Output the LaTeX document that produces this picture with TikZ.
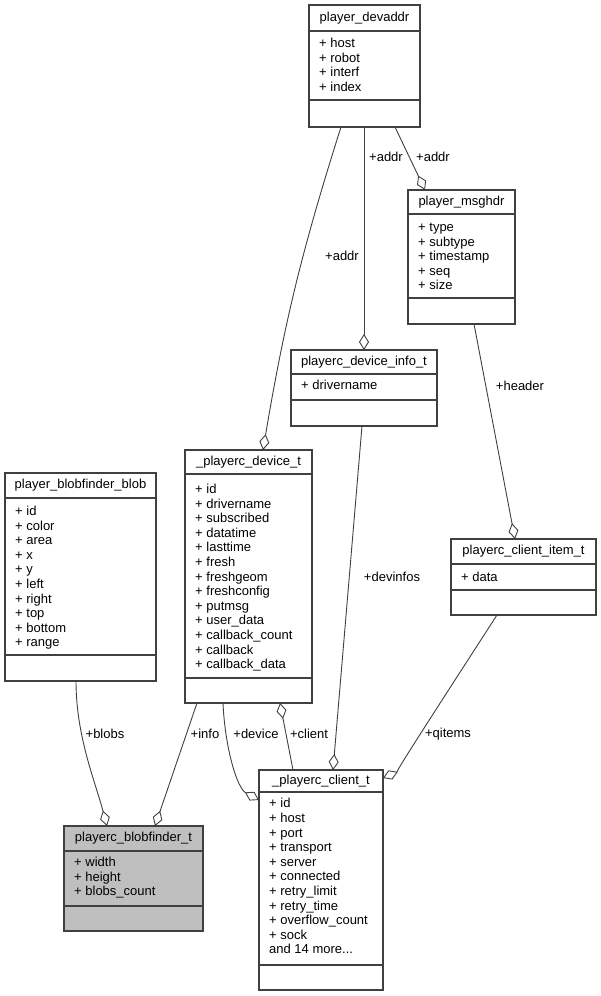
\documentclass[tikz,border=0pt]{standalone}
\usepackage{fontspec}
\setmainfont{Liberation Sans}
\usetikzlibrary{arrows.meta}
\definecolor{dxline}{HTML}{404040}
\definecolor{dxfill}{HTML}{BFBFBF}

\begin{document}
\begin{tikzpicture}[
  x=1pt, y=-1pt,
  cls/.style={draw=dxline, line width=1.3pt, fill=white, anchor=north west, inner sep=0pt, outer sep=0pt},
  hilite/.style={cls, fill=dxfill},
  sep/.style={dxline, line width=1.3pt},
  ttl/.style={font=\fontsize{13}{14.6}\selectfont, inner sep=0pt},
  attr/.style={font=\fontsize{13}{14.6}\selectfont, inner sep=0pt, align=left, anchor=north west},
  lbl/.style={font=\fontsize{13}{14.6}\selectfont, inner sep=0pt},
  agg/.style={dxline, line width=0.9pt, -{Diamond[open, length=16pt, width=10pt, line width=0.9pt]}}
]
\useasboundingbox (0,0) rectangle (601,996);

% classes
\node[cls, minimum width=111pt, minimum height=122pt] (devaddr) at (309,5) {};
\draw[sep] ([yshift=-26pt]devaddr.north west) -- ([yshift=-26pt]devaddr.north east);
\draw[sep] ([yshift=27pt]devaddr.south west) -- ([yshift=27pt]devaddr.south east);
\node[ttl] (devaddr-t) at ([yshift=-13pt]devaddr.north) {player\_devaddr};
\node[attr] (devaddr-a) at ([xshift=10pt,yshift=-32pt]devaddr.north west) {\strut+ host\\+ robot\\+ interf\\+ index};

\node[cls, minimum width=107pt, minimum height=134pt] (msghdr) at (408,190) {};
\draw[sep] ([yshift=-24pt]msghdr.north west) -- ([yshift=-24pt]msghdr.north east);
\draw[sep] ([yshift=26pt]msghdr.south west) -- ([yshift=26pt]msghdr.south east);
\node[ttl] (msghdr-t) at ([yshift=-12pt]msghdr.north) {player\_msghdr};
\node[attr] (msghdr-a) at ([xshift=10pt,yshift=-31pt]msghdr.north west) {\strut+ type\\+ subtype\\+ timestamp\\+ seq\\+ size};

\node[cls, minimum width=146pt, minimum height=76pt] (info) at (291,350) {};
\draw[sep] ([yshift=-24pt]info.north west) -- ([yshift=-24pt]info.north east);
\draw[sep] ([yshift=26pt]info.south west) -- ([yshift=26pt]info.south east);
\node[ttl] (info-t) at ([yshift=-12pt]info.north) {playerc\_device\_info\_t};
\node[attr] (info-a) at ([xshift=10pt,yshift=-29.5pt]info.north west) {\strut+ drivername};

\node[cls, minimum width=127pt, minimum height=253pt] (device) at (185,450) {};
\draw[sep] ([yshift=-24pt]device.north west) -- ([yshift=-24pt]device.north east);
\draw[sep] ([yshift=25pt]device.south west) -- ([yshift=25pt]device.south east);
\node[ttl] (device-t) at ([yshift=-12pt]device.north) {\_playerc\_device\_t};
\node[attr] (device-a) at ([xshift=10pt,yshift=-33pt]device.north west) {\strut+ id\\+ drivername\\+ subscribed\\+ datatime\\+ lasttime\\+ fresh\\+ freshgeom\\+ freshconfig\\+ putmsg\\+ user\_data\\+ callback\_count\\+ callback\\+ callback\_data};

\node[cls, minimum width=151pt, minimum height=208pt] (blob) at (5,473) {};
\draw[sep] ([yshift=-25pt]blob.north west) -- ([yshift=-25pt]blob.north east);
\draw[sep] ([yshift=26pt]blob.south west) -- ([yshift=26pt]blob.south east);
\node[ttl] (blob-t) at ([yshift=-12.5pt]blob.north) {player\_blobfinder\_blob};
\node[attr] (blob-a) at ([xshift=10pt,yshift=-32pt]blob.north west) {\strut+ id\\+ color\\+ area\\+ x\\+ y\\+ left\\+ right\\+ top\\+ bottom\\+ range};

\node[cls, minimum width=145pt, minimum height=76pt] (item) at (451,539) {};
\draw[sep] ([yshift=-25pt]item.north west) -- ([yshift=-25pt]item.north east);
\draw[sep] ([yshift=25pt]item.south west) -- ([yshift=25pt]item.south east);
\node[ttl] (item-t) at ([yshift=-12.5pt]item.north) {playerc\_client\_item\_t};
\node[attr] (item-a) at ([xshift=10pt,yshift=-32pt]item.north west) {\strut+ data};

\node[hilite, minimum width=139pt, minimum height=105pt] (bf) at (64,826) {};
\draw[sep] ([yshift=-25pt]bf.north west) -- ([yshift=-25pt]bf.north east);
\draw[sep] ([yshift=25pt]bf.south west) -- ([yshift=25pt]bf.south east);
\node[ttl] (bf-t) at ([yshift=-12.5pt]bf.north) {playerc\_blobfinder\_t};
\node[attr] (bf-a) at ([xshift=10pt,yshift=-30pt]bf.north west) {\strut+ width\\+ height\\+ blobs\_count};

\node[cls, minimum width=124pt, minimum height=220pt] (client) at (259,770) {};
\draw[sep] ([yshift=-22pt]client.north west) -- ([yshift=-22pt]client.north east);
\draw[sep] ([yshift=25pt]client.south west) -- ([yshift=25pt]client.south east);
\node[ttl] (client-t) at ([yshift=-11pt]client.north) {\_playerc\_client\_t};
\node[attr] (client-a) at ([xshift=10pt,yshift=-27.5pt]client.north west) {\strut+ id\\+ host\\+ port\\+ transport\\+ server\\+ connected\\+ retry\_limit\\+ retry\_time\\+ overflow\_count\\+ sock\\and 14 more...};

% relations
\draw[agg] ([xshift=32pt]devaddr.south west) to[bend right=4] ([xshift=78pt]device.north west);
\draw[agg] (info.north |- devaddr.south) -- (info.north);
\draw[agg] ([xshift=86pt]devaddr.south west) -- ([xshift=17pt]msghdr.north west);
\draw[agg] ([xshift=66pt]msghdr.south west) -- ([xshift=64pt]item.north west);
\draw[agg] ([xshift=71pt]info.south west) -- ([xshift=74pt]client.north west);
\draw[agg] ([xshift=46pt]item.south west) .. controls +(-75,116) and +(12,-5) .. ([yshift=-8pt]client.north east);
\draw[agg] ([xshift=34pt]client.north west) -- ([xshift=95pt]device.south west);
\draw[agg] ([xshift=38pt]device.south west) .. controls +(2,45) and +(-22,-12) .. ([yshift=-30pt]client.north west);
\draw[agg] ([xshift=12pt]device.south west) -- ([xshift=91pt]bf.north west);
\draw[agg] ([xshift=71pt]blob.south west) .. controls +(0,55) and +(-12,-45) .. ([xshift=43pt]bf.north west);

\node[lbl] (l-addr1) at (342,256) {+addr};
\node[lbl] (l-addr2) at (386,157) {+addr};
\node[lbl] (l-addr3) at (433,157) {+addr};
\node[lbl] (l-header) at (520,386) {+header};
\node[lbl] (l-devinfos) at (392,577) {+devinfos};
\node[lbl] (l-qitems) at (448,734) {+qitems};
\node[lbl] (l-client) at (309,734) {+client};
\node[lbl] (l-device) at (256,734) {+device};
\node[lbl] (l-info) at (205,734) {+info};
\node[lbl] (l-blobs) at (105,734) {+blobs};
\end{tikzpicture}
\end{document}
